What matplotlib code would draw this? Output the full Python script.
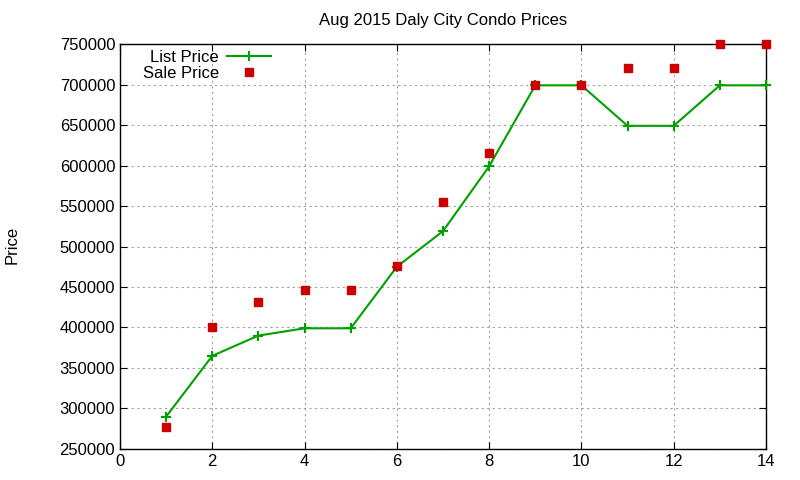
import matplotlib
matplotlib.use("Agg")
import matplotlib.pyplot as plt

# listing number vs price
idx = [1, 2, 3, 4, 5, 6, 7, 8, 9, 10, 11, 12, 13, 14]
list_price = [290000, 365000, 390000, 399000, 399000, 475000, 519000,
              599000, 699000, 699000, 649000, 649000, 699000, 699000]
sale_price = [277000, 400000, 432000, 446000, 446000, 476000, 555000,
              615000, 700000, 700000, 720000, 720000, 750000, 750000]

plt.rcParams["font.family"] = ["Liberation Sans", "DejaVu Sans"]
plt.rcParams["font.size"] = 12

fig = plt.figure(figsize=(8, 4.8), dpi=100)
ax = fig.add_axes([0.15, 0.0646, 0.8075, 0.8437])

ax.plot(idx, list_price, color="#00a000", lw=1.5, marker="+", ms=7, mew=1.5,
        label="List Price", clip_on=False, zorder=3)
ax.plot(idx, sale_price, ls="none", marker="s", ms=6, color="#cc0000",
        label="Sale Price", clip_on=False, zorder=4)

ax.set_xlim(0, 14)
ax.set_ylim(250000, 750000)
ax.set_xticks(range(0, 15, 2))
ax.set_yticks(range(250000, 750001, 50000))
ax.grid(True, color="#a0a0a0", ls=(0, (2, 3)), lw=0.8)
ax.tick_params(direction="in", top=True, right=True, length=5, labelsize=12)
for s in ax.spines.values():
    s.set_linewidth(1)

ax.set_title("Aug 2015 Daly City Condo Prices", fontsize=12, pad=14)
fig.text(0.015, 0.49, "Price", rotation=90, ha="center", va="center", fontsize=12)

leg = ax.legend(loc="upper left", bbox_to_anchor=(0.02, 1.01), frameon=False,
                markerfirst=False, handlelength=2.6, borderaxespad=0.2,
                labelspacing=0.05, fontsize=12, handletextpad=0.5, numpoints=1)
for t in leg.get_texts():
    t.set_ha("right")
leg._legend_box.align = "right"

fig.savefig("out.png", dpi=100)
